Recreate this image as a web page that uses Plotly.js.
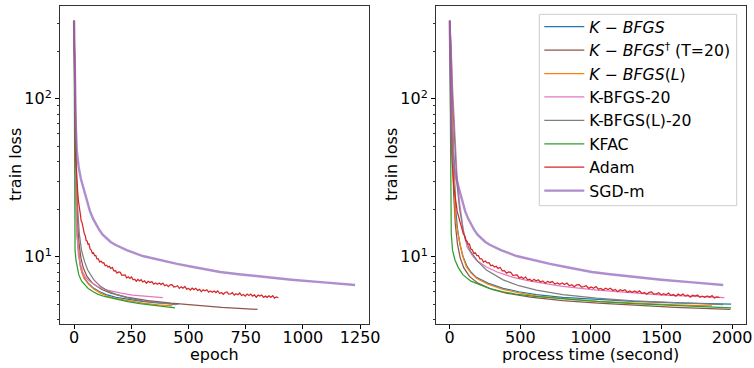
<!DOCTYPE html>
<html>
<head>
<meta charset="utf-8">
<script src="https://cdn.plot.ly/plotly-3.0.1.min.js"></script>
<style>html,body{margin:0;padding:0;background:#fff;}#chart{width:754px;height:368px;}</style>
</head>
<body>
<div id="chart"></div>
<script>
// ---------------- data ----------------
const seriesNames = ["<i>K</i> − <i>BFGS</i>", "<i>K</i> − <i>BFGS</i><sup>†</sup> (T=20)", "<i>K</i> − <i>BFGS</i>(<i>L</i>)",
  "K-BFGS-20", "K-BFGS(L)-20", "KFAC", "Adam", "SGD-m"];
const xTicksEpoch = [0, 250, 500, 750, 1000, 1250];
const xTicksTime = [0, 500, 1000, 1500, 2000];
const yTickVals = [10, 100];
const yTickText = ["10<sup>1</sup>", "10<sup>2</sup>"];
const yMinorVals = [4, 5, 6, 7, 8, 9, 20, 30, 40, 50, 60, 70, 80, 90, 200, 300];

// K-BFGS (blue)
const kbfgsLoss  = [312, 200, 100, 50, 30, 20, 15, 12, 10, 8.8, 8.0, 7.4, 6.8, 6.3, 6.0, 5.76, 5.52, 5.34, 5.22, 5.11, 5.01];
const kbfgsEpoch = [0, 1.8, 3.4, 5.7, 7.6, 9.6, 12.6, 16.5, 21.7, 27.5, 34.3, 43.2, 61.8, 86.5, 112.1, 140.5, 183.1, 240.3, 297.5, 366.1, 456];
const kbfgsTime  = [0, 8, 15, 25, 33, 42, 55, 72, 95, 120, 150, 189, 270, 378, 490, 614, 800, 1050, 1300, 1600, 1993];

// K-BFGS† (T=20) (brown)
const kbfgsTLoss  = [312, 200, 100, 45, 25, 16, 12, 9.8, 8.5, 7.5, 6.8, 6.2, 5.88, 5.55, 5.27, 5.08, 4.92, 4.78, 4.64];
const kbfgsTEpoch = [0, 2, 4, 7.3, 11.3, 16.1, 22.2, 30.2, 40.3, 56.5, 80.6, 121, 161.3, 230.2, 322.6, 423.4, 524.2, 645.2, 801.6];
const kbfgsTTime  = [0, 5, 10, 18, 28, 40, 55, 75, 100, 140, 200, 300, 400, 571, 800, 1050, 1300, 1600, 1988];

// K-BFGS(L) (orange)
const kbfgsLLoss  = [312, 200, 100, 50, 30, 18, 14.5, 12.2, 10.2, 8.65, 7.9, 7.3, 6.7, 6.22, 5.9, 5.64, 5.42, 5.22, 5.08, 4.96, 4.88];
const kbfgsLEpoch = [0, 1.9, 3.5, 5.8, 7.6, 9.3, 12.7, 16.4, 20.8, 27.3, 34.7, 43.8, 62.5, 87.5, 113.4, 142.1, 185.2, 243, 301, 370, 430];
const kbfgsLTime  = [0, 8, 15, 25, 33, 40, 55, 71, 90, 118, 150, 189, 270, 378, 490, 614, 800, 1050, 1300, 1600, 1858];

// K-BFGS-20 (pink)
const kbfgs20Loss  = [312, 220, 120, 60, 35, 22, 15, 11.5, 10.2, 9.5, 8.6, 8.0, 7.4, 7.0, 6.5, 6.15, 5.9, 5.72, 5.6, 5.5];
const kbfgs20Epoch = [0, 1, 2, 3.5, 5, 7.5, 11, 15, 19, 23, 30, 38, 50, 68, 100, 145, 200, 255, 320, 388];
const kbfgs20Time  = [0, 10, 20, 35, 50, 70, 95, 123, 160, 189, 260, 336, 450, 571, 800, 1044, 1300, 1516, 1750, 1945];

// K-BFGS(L)-20 (gray)
const kbfgsL20Loss  = [312, 200, 100, 50, 30, 20, 14, 11.0, 9.3, 8.24, 7.13, 6.55, 6.15, 5.75, 5.46, 5.25, 5.1, 4.98];
const kbfgsL20Epoch = [0, 2.3, 4.6, 8.0, 11.5, 16.1, 22.9, 32.6, 45.9, 59.6, 86.7, 112.4, 140.8, 183.5, 238.5, 298.2, 367, 444.5];
const kbfgsL20Time  = [0, 10, 20, 35, 50, 70, 100, 142, 200, 260, 378, 490, 614, 800, 1040, 1300, 1600, 1938];

// KFAC (green)
const kfacLoss  = [312, 150, 60, 25, 14, 11, 9.5, 8.5, 7.7, 7.0, 6.6, 6.3, 6.0, 5.8, 5.6, 5.4, 5.2, 5.05, 4.9, 4.75];
const kfacEpoch = [0, 0.7, 1.1, 1.8, 2.4, 4.4, 8.4, 13.7, 20.6, 33.2, 48.7, 61.9, 83.6, 102.9, 132.7, 177, 234.5, 287.6, 354, 441];
const kfacTime  = [0, 3, 5, 8, 11, 20, 38, 62, 93, 150, 220, 280, 378, 465, 600, 800, 1060, 1300, 1600, 1993];

// Adam (red, noisy)
const adamEpoch = [0,1,2,3,4,6,8,10,
  13,16,19,22,25,28,31,34,37,
  41,45,49,53,57,61,65,
  70,75,80,85,90,95,100,
  106,112,118,124,130,136,142,148,154,160,
  167,174,181,188,195,202,209,216,223,
  230,237,244,251,258,265,272,279,286,293,
  300,
  308,316,324,332,340,348,356,364,372,380,388,396,404,412,420,428,436,444,452,460,468,476,484,492,500,
  508,516,524,532,540,548,556,564,572,580,588,596,604,612,620,628,636,644,652,660,668,676,684,692,700,
  708,716,724,732,740,748,756,764,772,780,788,796,804,812,820,828,836,844,852,860,868,876,884,
  893];
const adamTime = [0,2.1,4.3,6.4,8.6,12.8,17.1,21.4,
  27.8,34.2,40.7,47.1,53.5,59.9,66.3,72.8,79.2,
  87.7,96.3,104.9,113.4,122,130.5,139.1,
  149.8,160.5,171.2,181.9,192.6,203.3,214,
  226.8,239.7,252.5,265.4,278.2,291,303.9,316.7,329.6,342.4,
  357.4,372.4,387.3,402.3,417.3,432.3,447.3,462.2,477.2,
  492.2,507.2,522.2,537.1,552.1,567.1,582.1,597.1,612,627,
  642,
  659.1,676.2,693.4,710.5,727.6,744.7,761.8,779,796.1,813.2,830.3,847.4,864.6,881.7,898.8,915.9,933,950.2,967.3,984.4,1001.5,1018.6,1035.8,1052.9,1070,
  1087.1,1104.2,1121.4,1138.5,1155.6,1172.7,1189.8,1207,1224.1,1241.2,1258.3,1275.4,1292.6,1309.7,1326.8,1343.9,1361,1378.2,1395.3,1412.4,1429.5,1446.6,1463.8,1480.9,1498,
  1515.1,1532.2,1549.4,1566.5,1583.6,1600.7,1617.8,1635,1652.1,1669.2,1686.3,1703.4,1720.6,1737.7,1754.8,1771.9,1789,1806.2,1823.3,1840.4,1857.5,1874.6,1891.8,
  1910];
const adamLoss = [312,200,125,88,68,50,40,34,
  28.5,25.8,22.6,21.4,19.2,18.4,16.9,16.6,15.9,
  14.6,13.96,13.6,12.67,12.58,11.99,12.05,
  11.19,11.02,10.5,10.59,10.15,10.17,9.69,
  9.7,9.25,9.39,9.14,9.17,8.77,8.84,8.61,8.7,8.43,
  8.55,8.14,8.17,7.87,8.0,7.96,7.63,7.61,7.66,
  7.34,7.45,7.28,7.44,7.14,7.2,7.0,7.19,7.02,7.15,
  6.92,
  7.03,6.79,6.98,6.87,6.96,6.71,6.82,6.69,6.81,6.66,6.81,6.55,6.65,6.46,6.63,6.66,6.43,6.46,6.55,6.3,6.44,6.31,6.48,6.23,6.3,
  6.15,6.32,6.19,6.31,6.11,6.21,6.01,6.18,6.09,6.18,5.96,6.07,5.96,6.07,5.93,6.08,5.85,5.94,5.78,5.94,5.98,5.79,5.82,5.92,5.72,
  5.83,5.74,5.89,5.68,5.76,5.63,5.8,5.68,5.8,5.63,5.73,5.54,5.71,5.63,5.72,5.53,5.63,5.53,5.65,5.53,5.67,5.47,5.56,
  5.5];

// SGD-m (purple)
const sgdLoss  = [312, 250, 190, 140, 90, 65, 47, 37, 31, 27, 21.5, 19.3, 17.3, 15.9, 14.8, 13.8, 13.0, 12.4, 11.9, 11.4, 11.0, 10.1, 9.5, 9.0, 8.6, 8.0, 7.75, 7.5, 7.15, 6.85, 6.62];
const sgdEpoch = [0, 1, 2, 3, 5, 8, 12, 20, 30, 41, 60, 70, 84, 97, 110, 125, 143, 160, 180, 205, 230, 300, 376, 450, 521, 638, 720, 813, 950, 1104, 1228];
const sgdTime  = [0, 1.6, 3.2, 4.7, 7.9, 12.6, 18.9, 31.5, 47.3, 64.7, 94.6, 110.4, 132.5, 153, 173.5, 197.1, 225.5, 252.3, 283.9, 323.3, 362.7, 473.1, 593, 709.7, 821.6, 1006.1, 1135.4, 1282.1, 1498.2, 1741, 1936.6];

// ---------------- build traces ----------------
const colors = ["#1f77b4", "#8c564b", "#ff7f0e", "#e377c2", "#7f7f7f", "#2ca02c", "#d62728", "#9467bd"];
const epochX = [kbfgsEpoch, kbfgsTEpoch, kbfgsLEpoch, kbfgs20Epoch, kbfgsL20Epoch, kfacEpoch, adamEpoch, sgdEpoch];
const timeX  = [kbfgsTime, kbfgsTTime, kbfgsLTime, kbfgs20Time, kbfgsL20Time, kfacTime, adamTime, sgdTime];
const lossY  = [kbfgsLoss, kbfgsTLoss, kbfgsLLoss, kbfgs20Loss, kbfgsL20Loss, kfacLoss, adamLoss, sgdLoss];

const traces = [];
[["x", "y", epochX, false], ["x2", "y2", timeX, true]].forEach(function (p) {
  for (let i = 0; i < seriesNames.length; i++) {
    const isSgd = i === 7;
    traces.push({x: p[2][i], y: lossY[i], type: "scatter", mode: "lines", name: seriesNames[i],
      line: {color: colors[i], width: isSgd ? 2.4 : 1.25}, opacity: isSgd ? 0.75 : 1,
      xaxis: p[0], yaxis: p[1], showlegend: p[3], legendgroup: "g" + i});
  }
});

const W = 754, H = 368;
const tickFont = {family: "DejaVu Sans", size: 16, color: "#000"};
function xAxis(domain, range, ticks, anchor) {
  return {domain: domain, range: range, tickvals: ticks, ticktext: ticks.map(String), anchor: anchor,
    showline: true, mirror: true, linecolor: "#333", linewidth: 1, ticks: "outside", ticklen: 4, tickwidth: 1,
    tickcolor: "#000", showgrid: false, zeroline: false, tickfont: tickFont, ticklabelstandoff: -5};
}
function yAxis(anchor) {
  return {domain: [44 / H, 362 / H], type: "log", range: [0.574, 2.587], tickvals: yTickVals, ticktext: yTickText,
    anchor: anchor, showline: true, mirror: true, linecolor: "#333", linewidth: 1, ticks: "outside", ticklen: 4,
    tickwidth: 1, tickcolor: "#000", showgrid: false, zeroline: false, tickfont: tickFont,
    minor: {tickvals: yMinorVals, ticks: "outside", ticklen: 2.2, tickwidth: 0.8, tickcolor: "#000", showgrid: false}};
}
const labelFont = {family: "DejaVu Sans", size: 16, color: "#000"};
const layout = {
  width: W, height: H, margin: {l: 0, r: 0, t: 0, b: 0},
  paper_bgcolor: "#fff", plot_bgcolor: "#fff", showlegend: true,
  xaxis: xAxis([60 / W, 369.3 / W], [-61.4, 1290], xTicksEpoch, "y"),
  xaxis2: xAxis([436 / W, 745.7 / W], [-97, 2096], xTicksTime, "y2"),
  yaxis: yAxis("x"),
  yaxis2: yAxis("x2"),
  legend: {x: 539.3 / W, y: 1 - 10 / H, xanchor: "left", yanchor: "top", bgcolor: "rgba(0,0,0,0)",
    borderwidth: 0, font: {family: "DejaVu Sans", size: 15.7, color: "#000"}, traceorder: "normal", itemwidth: 40},
  shapes: [
    {type: "rect", xref: "paper", yref: "paper", x0: 539.3 / W, x1: 736.7 / W, y0: 1 - 205.7 / H, y1: 1 - 14.3 / H,
      line: {color: "#cccccc", width: 1}, fillcolor: "rgba(255,255,255,0.85)", layer: "above"}
  ],
  annotations: [
    {text: "train loss", xref: "paper", yref: "paper", x: 15 / W, y: 1 - 165 / H, xanchor: "center", yanchor: "middle", textangle: -90, showarrow: false, font: labelFont},
    {text: "train loss", xref: "paper", yref: "paper", x: 391 / W, y: 1 - 165 / H, xanchor: "center", yanchor: "middle", textangle: -90, showarrow: false, font: labelFont},
    {text: "epoch", xref: "paper", yref: "paper", x: 214.6 / W, y: 1 - 354.5 / H, xanchor: "center", yanchor: "middle", showarrow: false, font: labelFont},
    {text: "process time (second)", xref: "paper", yref: "paper", x: 590 / W, y: 1 - 354.5 / H, xanchor: "center", yanchor: "middle", showarrow: false, font: labelFont}
  ]
};
Plotly.newPlot("chart", traces, layout, {staticPlot: true, displayModeBar: false});
</script>
</body>
</html>
